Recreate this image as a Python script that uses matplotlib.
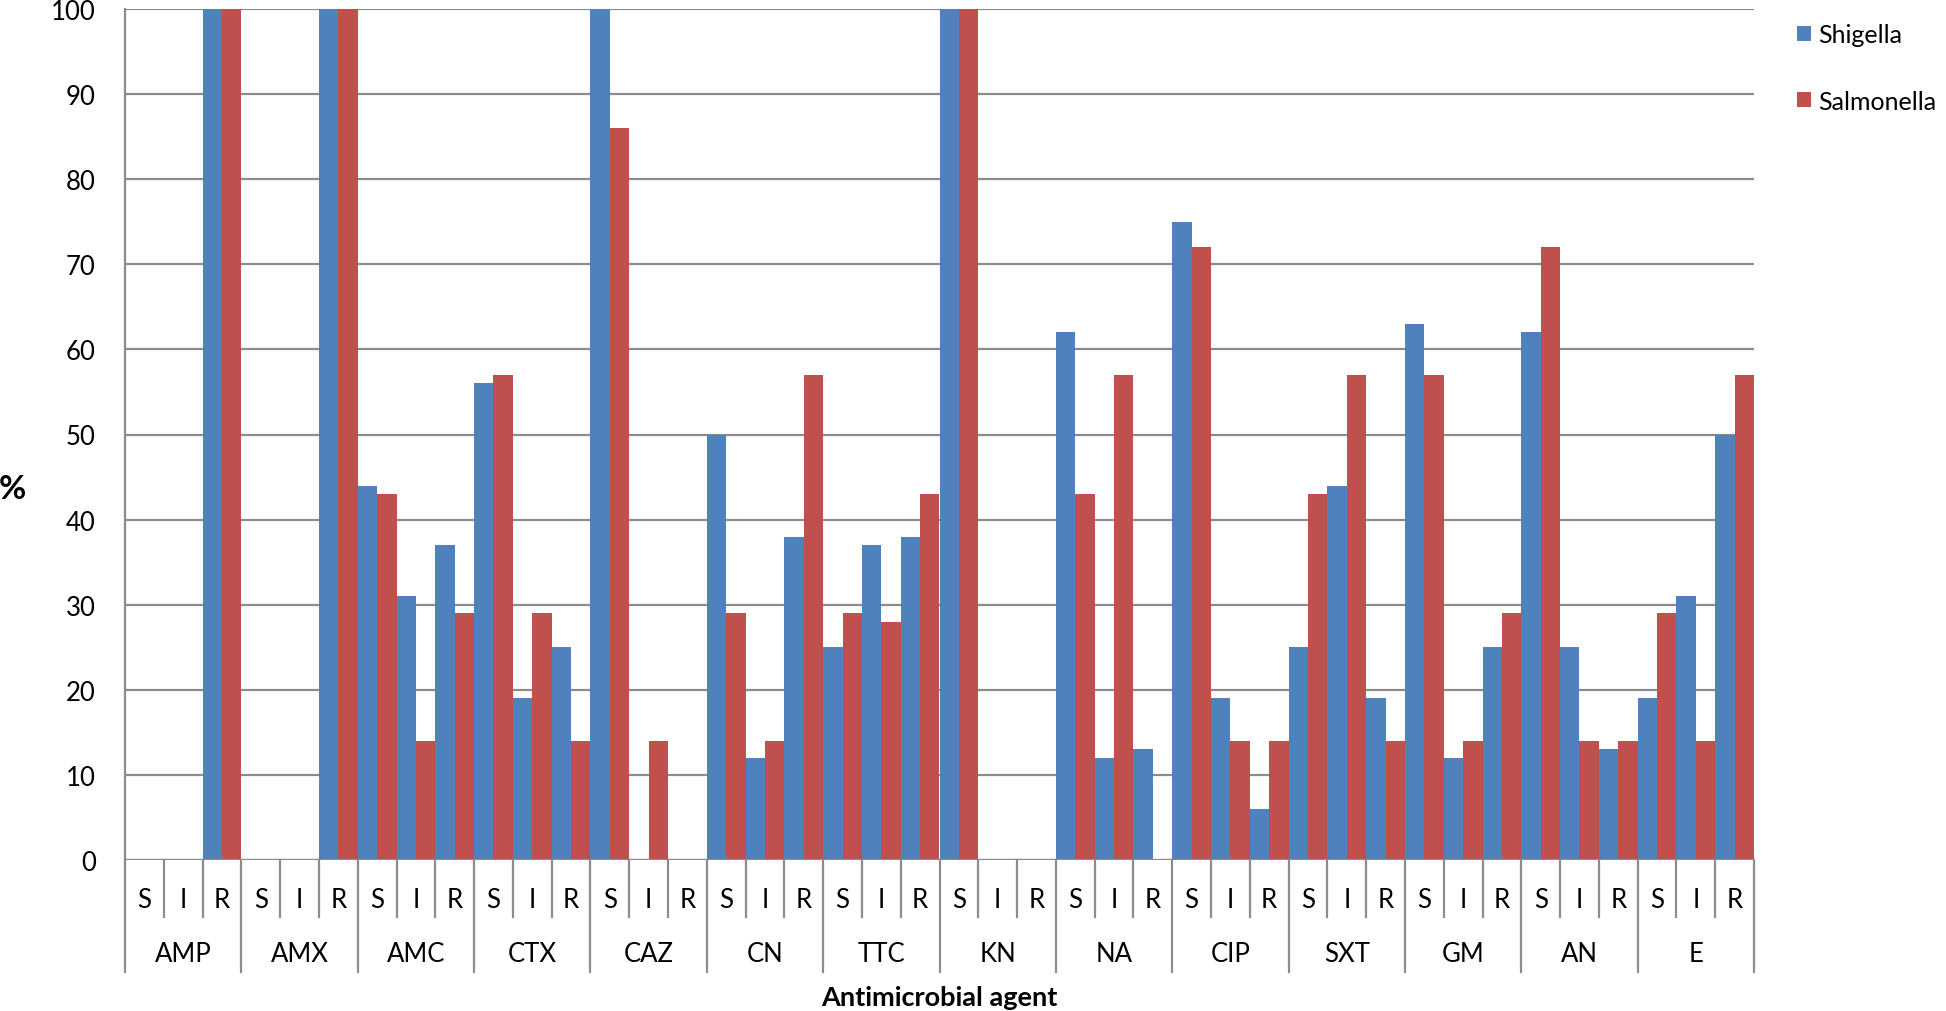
import numpy as np
import matplotlib
matplotlib.use("Agg")
import matplotlib.pyplot as plt
from matplotlib.transforms import blended_transform_factory

plt.rcParams['font.family'] = ['Lato', 'DejaVu Sans']

agents = ["AMP", "AMX", "AMC", "CTX", "CAZ", "CN", "TTC", "KN", "NA", "CIP", "SXT", "GM", "AN", "E"]
levels = ["S", "I", "R"]

# values per agent in S, I, R order
shigella = [0, 0, 100,  0, 0, 100,  44, 31, 37,  56, 19, 25,  100, 0, 0,
            50, 12, 38,  25, 37, 38,  100, 0, 0,  62, 12, 13,  75, 19, 6,
            25, 44, 19,  63, 12, 25,  62, 25, 13,  19, 31, 50]
salmonella = [0, 0, 100,  0, 0, 100,  43, 14, 29,  57, 29, 14,  86, 14, 0,
              29, 14, 57,  29, 28, 43,  100, 0, 0,  43, 57, 0,  72, 14, 14,
              43, 57, 14,  57, 14, 29,  72, 14, 14,  29, 14, 57]

blue = "#4F81BD"
red = "#C0504D"
grey = "#8C8C8C"

W, H = 1946, 1012
fig = plt.figure(figsize=(W / 100, H / 100), dpi=100)
ax = fig.add_axes([125 / W, 1 - 861 / H, (1754 - 125) / W, (861 - 10) / H])

n = len(shigella)
x = np.arange(n)
ax.bar(x - 0.25, shigella, width=0.5, color=blue, label="Shigella", zorder=3)
ax.bar(x + 0.25, salmonella, width=0.5, color=red, label="Salmonella", zorder=3)

ax.set_xlim(-0.5, n - 0.5)
ax.set_ylim(0, 100)
ax.set_yticks(np.arange(0, 101, 10))
ax.tick_params(axis='y', length=0, pad=21, labelsize=18.5)
ax.set_xticks([])
ax.yaxis.grid(True, color=grey, linewidth=1.6, zorder=0)
for s in ["top", "right", "bottom"]:
    ax.spines[s].set_visible(False)
ax.spines["left"].set_color(grey)
ax.spines["left"].set_linewidth(1.6)
ax.axhline(0, color=grey, linewidth=1.6, zorder=4)

# two-level category axis below the plot
tr = blended_transform_factory(ax.transData, fig.transFigure)
y_base = 1 - 861 / H
y_sub = 1 - 918 / H
y_grp = 1 - 973 / H
for b in range(n + 1):
    edge = b - 0.5
    y_end = y_grp if b % 3 == 0 else y_sub
    ax.plot([edge, edge], [y_base, y_end], color=grey, linewidth=1.6,
            transform=tr, clip_on=False)
for i in range(n):
    ax.text(i, 1 - 901 / H, levels[i % 3], transform=tr, ha="center",
            va="center", fontsize=18.5)
for g, name in enumerate(agents):
    ax.text(3 * g + 1, 1 - 955 / H, name, transform=tr, ha="center",
            va="center", fontsize=18.5)

fig.text((125 + 1754) / 2 / W, 1 - 998 / H, "Antimicrobial agent",
         ha="center", va="center", fontsize=19.5, fontweight="bold")
fig.text(12 / W, 1 - 490 / H, "%", ha="center", va="center",
         fontsize=24, fontweight="bold")

ax.legend(loc="upper left", bbox_to_anchor=(1797 / W, 1 - 24 / H),
          bbox_transform=fig.transFigure, frameon=False, fontsize=18,
          handlelength=0.55, handleheight=0.55, handletextpad=0.3,
          labelspacing=1.75, borderaxespad=0, borderpad=0)

fig.savefig("out.png", dpi=100)
